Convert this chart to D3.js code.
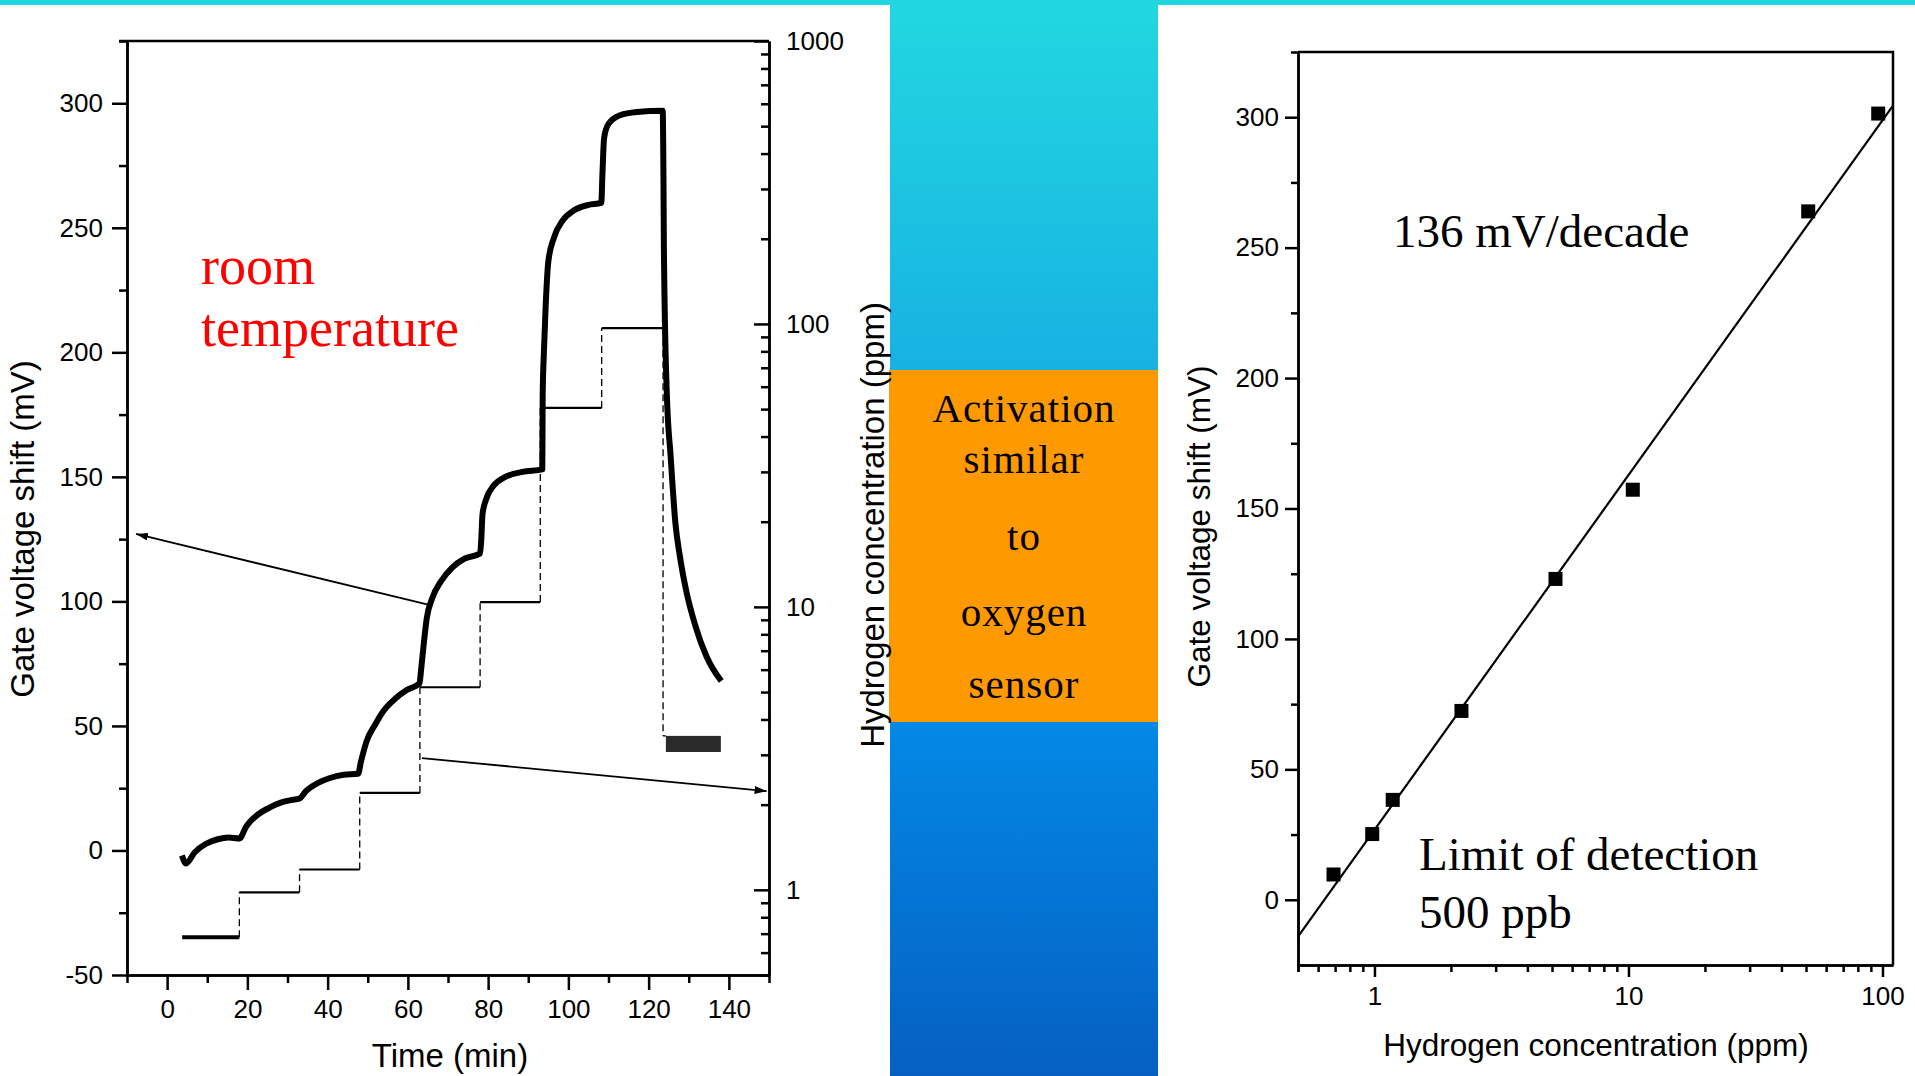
<!DOCTYPE html>
<html>
<head>
<meta charset="utf-8">
<script src="https://cdn.jsdelivr.net/npm/d3@7"></script>
<style>
  body { margin: 0; background: #fff; }
  svg { display: block; }
  .axis text { font-family: "Liberation Sans", Arial, sans-serif; font-size: 26px; fill: #000; }
  .axis path, .axis line { stroke: #000; stroke-width: 2.5px; }
  .label { font-family: "Liberation Sans", Arial, sans-serif; fill: #000; }
  .serif { font-family: "Liberation Serif", "Times New Roman", serif; }
</style>
</head>
<body>
<svg id="chart" width="1915" height="1076"></svg>
<script>
// left panel: gate voltage shift (mV) vs time (min)
const gateTime = [3.7, 4.7, 6.9, 9.7, 12.6, 15.4, 18,
  19.7, 22.6, 25.4, 28.3, 31.1, 32.9,
  34.7, 37.6, 40.4, 44, 47.6,
  48.3, 49.7, 51.9, 54, 56.9, 59.7, 62.9,
  63.3, 64, 64.7, 66.1, 68.3, 71.1, 74, 78,
  78.3, 78.6, 79.5, 81.4, 84.3, 88.6, 93.5,
  93.6, 93.9, 94.3, 95, 96.4, 98.6, 101.4, 105, 108.2,
  108.5, 108.9, 110, 112.9, 117.1, 123.5,
  123.7, 123.8, 124.5, 125.5, 126.7, 127.8, 129.4, 131.5, 134.4, 138.1];
const gateShift = [-2, -5.2, -0.7, 2.7, 4.5, 5.2, 4.8,
  9.6, 14.4, 17.1, 19.2, 20.3, 20.8,
  24, 27.1, 29, 30.4, 30.8,
  35.6, 43.8, 50.7, 56.2, 61, 64.4, 67.1,
  72.6, 83.6, 93.2, 101.4, 108.2, 113.7, 117.1, 119.2,
  125, 135, 141, 146.5, 150, 152, 153,
  183, 200, 217, 236.4, 246, 253, 257, 259.2, 260,
  272, 286, 291.7, 295.2, 296.5, 297,
  270, 243, 185, 158, 131, 118, 104, 91, 78, 68];

// hydrogen concentration steps (ppm, right log axis)
const stepStart = [3.75, 18, 33, 48, 63, 78, 93, 108.3];
const stepEnd = [18, 33, 48, 63, 78, 93, 108.3, 123.6];
const stepConc = [0.68, 0.98, 1.18, 2.2, 5.2, 10.4, 50.5, 96.6];
const recoveryTime = [124.3, 138];
const recoveryConc = [3.07, 3.5];

const timeTicks = [0, 20, 40, 60, 80, 100, 120, 140];
const shiftTicks = [-50, 0, 50, 100, 150, 200, 250, 300];
const concTicks = [1, 10, 100, 1000];

// arrows: [time, shift] from -> to
const arrowFrom = [[65.3, 98.6], [63.5, 37.1]];
const arrowTo = [[-7.75, 127.1], [149.4, 23.8]];

// right panel: calibration
const calConc = [0.69, 0.98, 1.18, 2.2, 5.16, 10.4, 51, 96.2];
const calShift = [9.7, 25.2, 38.3, 72.4, 123, 157.2, 263.9, 301.4];
const fitSlope = 136;
const fitIntercept = 26.8;
const calConcTicks = [1, 10, 100];
const calShiftTicks = [0, 50, 100, 150, 200, 250, 300];

const svg = d3.select("#chart");
const plain = d => String(d);

function logMinor(lo, hi) {
  const out = [];
  for (let p = Math.floor(Math.log10(lo)); p <= Math.ceil(Math.log10(hi)); p++) {
    for (let m = 1; m < 10; m++) {
      const v = m * Math.pow(10, p);
      if (m > 1 && v >= lo - 1e-9 && v <= hi + 1e-9) out.push(v);
    }
  }
  return out;
}

// background: top band and middle gradient column
const defs = svg.append("defs");
const grad = defs.append("linearGradient").attr("id", "colGrad")
  .attr("x1", 0).attr("y1", 0).attr("x2", 0).attr("y2", 1);
[[0, "#22d8e0"], [0.34, "#17b2e2"], [0.67, "#0389e6"], [1, "#0560c2"]].forEach(s => {
  grad.append("stop").attr("offset", s[0]).attr("stop-color", s[1]);
});
defs.append("marker").attr("id", "arrowHead")
  .attr("viewBox", "0 0 12 8").attr("refX", 12).attr("refY", 4)
  .attr("markerWidth", 12).attr("markerHeight", 8)
  .attr("markerUnits", "userSpaceOnUse").attr("orient", "auto")
  .append("path").attr("d", "M0,0L12,4L0,8Z").attr("fill", "#000");

svg.append("rect").attr("x", 890).attr("y", 0).attr("width", 268).attr("height", 1076)
  .attr("fill", "url(#colGrad)");
svg.append("rect").attr("x", 0).attr("y", 0).attr("width", 1915).attr("height", 5)
  .attr("fill", "#20d6e0");
svg.append("rect").attr("x", 889).attr("y", 370).attr("width", 269).attr("height", 352)
  .attr("fill", "#ff9900");

const boxText = svg.append("text").attr("class", "serif")
  .attr("font-size", 41).attr("letter-spacing", 1).attr("text-anchor", "middle").attr("fill", "#000");
[["Activation", 422], ["similar", 473], ["to", 550], ["oxygen", 626], ["sensor", 698]].forEach(l => {
  boxText.append("tspan").attr("x", 1024).attr("y", l[1]).text(l[0]);
});

// ---------- left panel ----------
const xL = d3.scaleLinear().domain([-10, 150]).range([127, 769]);
const yL = d3.scaleLinear().domain([-50, 325]).range([975, 41]);
const yR = d3.scaleLog().domain([0.5, 1000]).range([975, 41]);

const timeMinor = d3.range(-10, 151, 20);
const shiftMinor = d3.range(-25, 326, 50);

svg.append("g").attr("class", "axis").attr("transform", `translate(${xL(-10)},0)`)
  .call(d3.axisLeft(yL).tickValues(shiftMinor).tickSize(8).tickSizeOuter(0).tickFormat(""));
svg.append("g").attr("class", "axis").attr("transform", `translate(${xL(-10)},0)`)
  .call(d3.axisLeft(yL).tickValues(shiftTicks).tickSize(15).tickPadding(9).tickSizeOuter(0)
    .tickFormat(plain));

svg.append("g").attr("class", "axis").attr("transform", `translate(0,${yL(-50)})`)
  .call(d3.axisBottom(xL).tickValues(timeMinor).tickSize(8).tickSizeOuter(0).tickFormat(""));
svg.append("g").attr("class", "axis").attr("transform", `translate(0,${yL(-50)})`)
  .call(d3.axisBottom(xL).tickValues(timeTicks).tickSize(15).tickPadding(10).tickSizeOuter(0)
    .tickFormat(plain));

svg.append("g").attr("class", "axis").attr("transform", `translate(${xL(150)},0)`)
  .call(d3.axisRight(yR).tickValues(logMinor(0.5, 1000)).tickSizeInner(-8).tickSizeOuter(0).tickFormat(""));
svg.append("g").attr("class", "axis").attr("transform", `translate(${xL(150)},0)`)
  .call(d3.axisRight(yR).tickValues(concTicks).tickSizeInner(-15).tickPadding(17).tickSizeOuter(0)
    .tickFormat(plain));

svg.append("line").attr("x1", xL(-10) - 8).attr("x2", xL(150))
  .attr("y1", yL(325)).attr("y2", yL(325)).attr("stroke", "#000").attr("stroke-width", 2.5);

// concentration steps
const conc = svg.append("g").attr("stroke", "#000").attr("fill", "none");
conc.selectAll("line.h").data(stepConc).enter().append("line").attr("class", "h")
  .attr("x1", (d, i) => xL(stepStart[i])).attr("x2", (d, i) => xL(stepEnd[i]))
  .attr("y1", d => yR(d)).attr("y2", d => yR(d))
  .attr("stroke-width", (d, i) => i === 0 ? 4 : 2.2);
const vNext = stepConc.slice(1).concat([recoveryConc[1]]);
conc.selectAll("line.v").data(vNext).enter().append("line").attr("class", "v")
  .attr("x1", (d, i) => xL(stepEnd[i])).attr("x2", (d, i) => xL(stepEnd[i]))
  .attr("y1", (d, i) => yR(stepConc[i])).attr("y2", d => yR(d))
  .attr("stroke-width", 1.3).attr("stroke-dasharray", "7,4");
conc.append("line")
  .attr("x1", xL(stepEnd[stepEnd.length - 1])).attr("x2", xL(recoveryTime[0]))
  .attr("y1", yR(recoveryConc[1])).attr("y2", yR(recoveryConc[1])).attr("stroke-width", 1.3);
svg.append("rect")
  .attr("x", xL(recoveryTime[0])).attr("width", xL(recoveryTime[1]) - xL(recoveryTime[0]))
  .attr("y", yR(recoveryConc[1])).attr("height", yR(recoveryConc[0]) - yR(recoveryConc[1]))
  .attr("fill", "#2a2a2a");

// gate voltage curve
const gateLine = d3.line()
  .x((d, i) => xL(gateTime[i]))
  .y(d => yL(d))
  .curve(d3.curveMonotoneX);
svg.append("path").datum(gateShift)
  .attr("d", gateLine)
  .attr("fill", "none").attr("stroke", "#000").attr("stroke-width", 6)
  .attr("stroke-linejoin", "round");

// arrows
svg.append("g").selectAll("line").data(arrowFrom).enter().append("line")
  .attr("x1", d => xL(d[0])).attr("y1", d => yL(d[1]))
  .attr("x2", (d, i) => xL(arrowTo[i][0])).attr("y2", (d, i) => yL(arrowTo[i][1]))
  .attr("stroke", "#000").attr("stroke-width", 1.8).attr("marker-end", "url(#arrowHead)");

svg.append("text").attr("class", "serif").attr("font-size", 54).attr("fill", "#ff0000")
  .selectAll("tspan").data([["room", 284], ["temperature", 346]]).enter().append("tspan")
  .attr("x", 201).attr("y", d => d[1]).text(d => d[0]);

svg.append("text").attr("class", "label").attr("font-size", 33).attr("text-anchor", "middle")
  .attr("transform", `translate(34,${(yL(-50) + yL(325)) / 2 + 21}) rotate(-90)`)
  .text("Gate voltage shift (mV)");
svg.append("text").attr("class", "label").attr("font-size", 33).attr("text-anchor", "middle")
  .attr("x", (xL(-10) + xL(150)) / 2 + 2).attr("y", 1067)
  .text("Time (min)");
svg.append("text").attr("class", "label").attr("font-size", 33).attr("text-anchor", "middle")
  .attr("transform", `translate(884,525) rotate(-90)`)
  .text("Hydrogen concentration (ppm)");

// ---------- right panel ----------
const xC = d3.scaleLog().domain([0.5, 110]).range([1298, 1893]);
const yC = d3.scaleLinear().domain([-25, 325]).range([965, 52]);

svg.append("g").attr("class", "axis").attr("transform", `translate(${xC(0.5)},0)`)
  .call(d3.axisLeft(yC).tickValues(d3.range(25, 326, 50)).tickSize(7).tickSizeOuter(0).tickFormat(""));
svg.append("g").attr("class", "axis").attr("transform", `translate(${xC(0.5)},0)`)
  .call(d3.axisLeft(yC).tickValues(calShiftTicks).tickSize(13).tickPadding(6).tickSizeOuter(0)
    .tickFormat(plain));

svg.append("g").attr("class", "axis").attr("transform", `translate(0,${yC(-25)})`)
  .call(d3.axisBottom(xC).tickValues(logMinor(0.5, 110).concat([0.5])).tickSize(7).tickSizeOuter(0).tickFormat(""));
svg.append("g").attr("class", "axis").attr("transform", `translate(0,${yC(-25)})`)
  .call(d3.axisBottom(xC).tickValues(calConcTicks).tickSize(12).tickPadding(10).tickSizeOuter(0)
    .tickFormat(plain));

svg.append("path")
  .attr("d", `M${xC(0.5)},${yC(325)}H${xC(110)}V${yC(-25)}`)
  .attr("fill", "none").attr("stroke", "#000").attr("stroke-width", 2.5);

const fitX = xC.domain();
svg.append("line")
  .attr("x1", xC(fitX[0])).attr("y1", yC(fitIntercept + fitSlope * Math.log10(fitX[0])))
  .attr("x2", xC(fitX[1])).attr("y2", yC(fitIntercept + fitSlope * Math.log10(fitX[1])))
  .attr("stroke", "#000").attr("stroke-width", 2.2);

svg.append("g").selectAll("rect").data(calConc).enter().append("rect")
  .attr("x", d => xC(d) - 7).attr("y", (d, i) => yC(calShift[i]) - 7)
  .attr("width", 14).attr("height", 14).attr("fill", "#000");

svg.append("text").attr("class", "serif").attr("font-size", 47)
  .attr("x", 1393).attr("y", 247).text("136 mV/decade");
svg.append("text").attr("class", "serif").attr("font-size", 47)
  .selectAll("tspan").data([["Limit of detection", 870], ["500 ppb", 928]]).enter().append("tspan")
  .attr("x", 1419).attr("y", d => d[1]).text(d => d[0]);

svg.append("text").attr("class", "label").attr("font-size", 31.5).attr("text-anchor", "middle")
  .attr("transform", `translate(1210,${(yC(-25) + yC(325)) / 2 + 18}) rotate(-90)`)
  .text("Gate voltage shift (mV)");
svg.append("text").attr("class", "label").attr("font-size", 31.5).attr("text-anchor", "middle")
  .attr("x", 1596).attr("y", 1056)
  .text("Hydrogen concentration (ppm)");
</script>
</body>
</html>
